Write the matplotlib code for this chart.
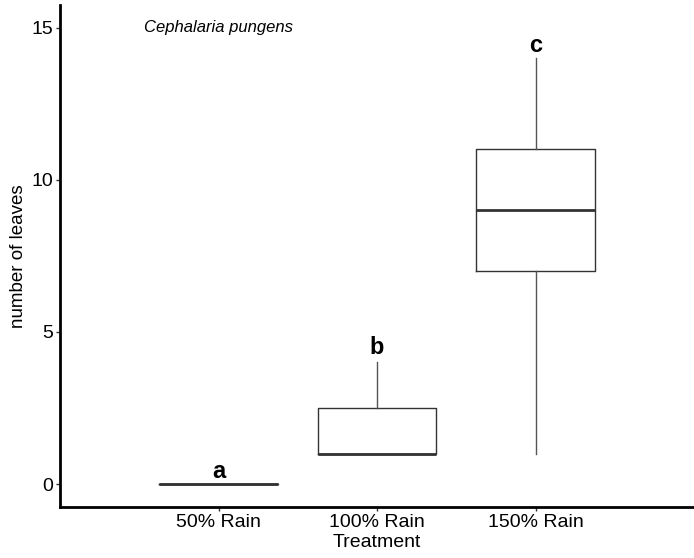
import matplotlib.pyplot as plt

plt.rcParams['font.family'] = ['Liberation Sans', 'DejaVu Sans']

# box statistics per treatment
treatments = ["50% Rain", "100% Rain", "150% Rain"]
q1 = [0, 1, 7]
median = [0, 1, 9]
q3 = [0, 2.5, 11]
whisker_low = [0, 1, 1]
whisker_high = [0, 4, 14]

# significance letters
letters = ["a", "b", "c"]
letter_y = [0.05, 4.1, 14.05]

stats = []
for i in range(len(treatments)):
    stats.append({
        "label": treatments[i],
        "q1": q1[i], "med": median[i], "q3": q3[i],
        "whislo": whisker_low[i], "whishi": whisker_high[i],
        "fliers": [],
    })

fig = plt.figure(figsize=(6.94, 5.58), dpi=100)
ax = fig.add_axes([0.0865, 0.0914, 0.9135, 0.9])

positions = [1, 2, 3]
ax.bxp(stats, positions=positions, widths=0.75, showcaps=False,
       boxprops=dict(color="#333333", linewidth=1.0),
       whiskerprops=dict(color="#555555", linewidth=1.0),
       medianprops=dict(color="#333333", linewidth=2.0))

for x, lab, y in zip(positions, letters, letter_y):
    ax.text(x, y, lab, ha="center", va="bottom", fontsize=17, fontweight="bold")

ax.text(1, 15, "Cephalaria pungens", ha="center", va="center",
        fontsize=12, style="italic")

ax.set_xlim(0, 4)
ax.set_ylim(-0.75, 15.75)
ax.set_yticks([0, 5, 10, 15])
ax.set_xticks(positions)
ax.set_xticklabels(treatments)

ax.spines["top"].set_visible(False)
ax.spines["right"].set_visible(False)
ax.spines["left"].set_linewidth(2)
ax.spines["bottom"].set_linewidth(2)
ax.tick_params(axis="both", length=3, width=1, color="#333333",
               labelsize=14, labelcolor="black", pad=2)

ax.set_xlabel("Treatment", fontsize=14, labelpad=2)
ax.set_ylabel("number of leaves", fontsize=13.5, labelpad=3)

plt.savefig("out.png")
